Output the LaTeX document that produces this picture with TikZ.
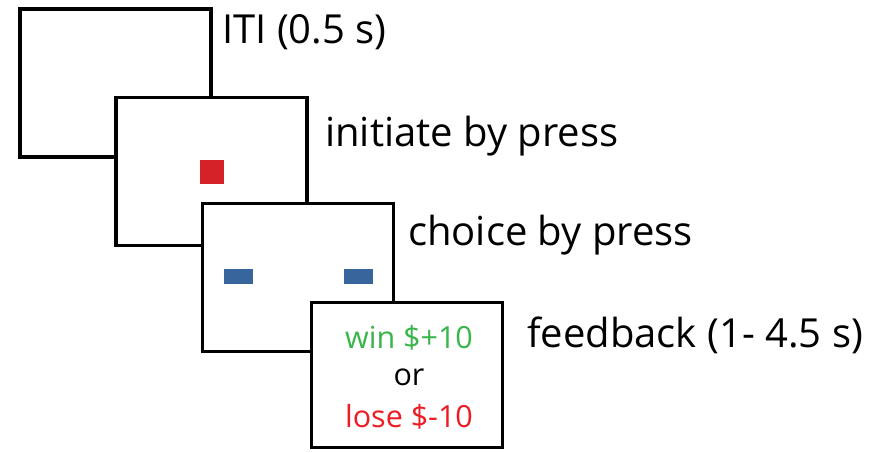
\documentclass[tikz,border=0pt]{standalone}
\usepackage{fontspec}
\setmainfont{Open Sans}
\definecolor{wingreen}{RGB}{57,181,74}
\definecolor{losered}{RGB}{237,28,36}
\definecolor{cuered}{RGB}{212,32,39}
\definecolor{cueblue}{RGB}{54,102,156}
\begin{document}
\begin{tikzpicture}[x=1pt,y=-1pt,
  screen/.style={draw=black,fill=white,line width=3.3pt,minimum width=191pt,minimum height=148pt,inner sep=0pt,outer sep=0pt},
  label/.style={anchor=base west,inner sep=0pt,font=\fontsize{40}{48}\selectfont},
  fbtext/.style={anchor=base,inner sep=0pt,font=\fontsize{30.5}{36}\selectfont},
  redcue/.style={fill=cuered,minimum width=24pt,minimum height=24pt,inner sep=0pt},
  bluecue/.style={fill=cueblue,minimum width=29pt,minimum height=15pt,inner sep=0pt}]
\useasboundingbox (0,0) rectangle (874,452);
\node[screen] (b1) at (115.5,83) {};
\node[screen] (b2) at (211.5,171.5) {};
\node[redcue] (red) at (212,172) {};
\node[screen] (b3) at (298,277.5) {};
\node[bluecue] (blueL) at (238.5,276.5) {};
\node[bluecue] (blueR) at (358.5,276.5) {};
\node[screen,minimum height=145pt] (b4) at (407,375) {};
\node[fbtext,text=wingreen] (win) at (409,348) {win \$+10};
\node[fbtext] (or) at (409,385) {or};
\node[fbtext,text=losered] (lose) at (409,427) {lose \$-10};
\node[label] (t1) at (222,44) {ITI (0.5 s)};
\node[label] (t2) at (325,146) {initiate by press};
\node[label] (t3) at (408,245) {choice by press};
\node[label] (t4) at (527,347) {feedback (1- 4.5 s)};
\end{tikzpicture}
\end{document}
